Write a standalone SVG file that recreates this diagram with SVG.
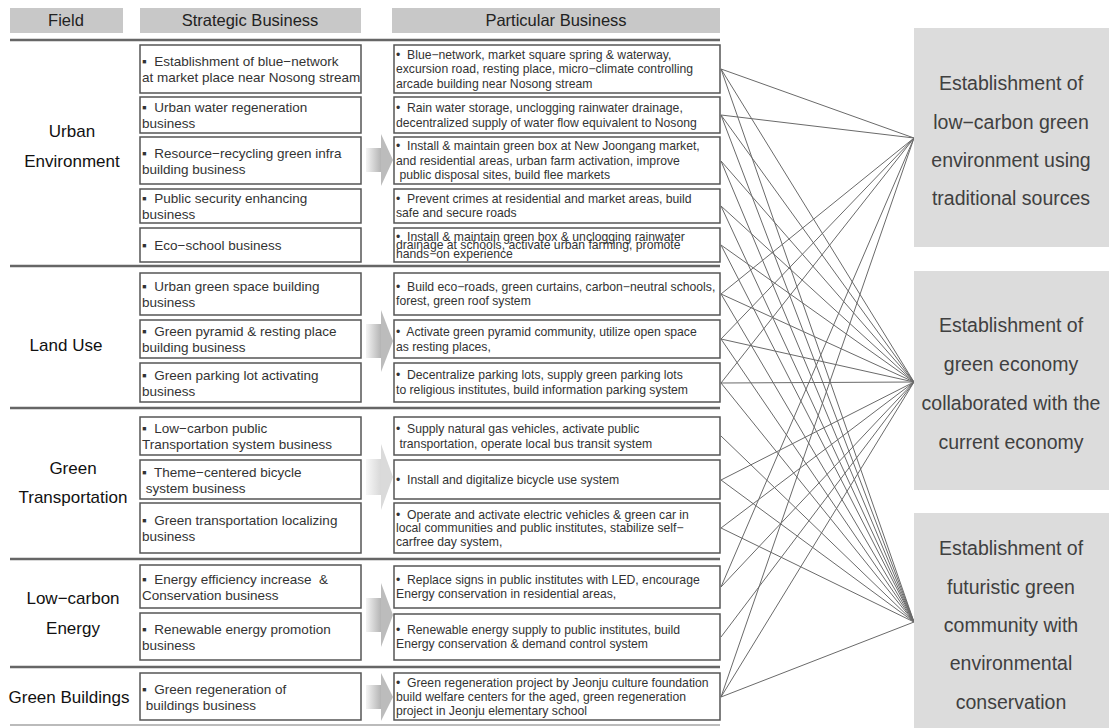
<svg xmlns="http://www.w3.org/2000/svg" width="1109" height="728" viewBox="0 0 1109 728">
<defs>
<linearGradient id="bodyG" x1="0" x2="1" y1="0" y2="0"><stop offset="0" stop-color="#f4f4f4"/><stop offset="1" stop-color="#b4b4b4"/></linearGradient>
<linearGradient id="bodyL" x1="0" x2="1" y1="0" y2="0"><stop offset="0" stop-color="#f8f8f8"/><stop offset="1" stop-color="#d8d8d8"/></linearGradient>
</defs>
<style>
.hdr{fill:#c8c8c8}
.ht{font-family:"Liberation Sans",Arial,sans-serif;font-size:16.5px;fill:#222;text-anchor:middle}
.fld{font-family:"Liberation Sans",Arial,sans-serif;font-size:17px;fill:#111;text-anchor:middle}
.box{fill:#fff;stroke:#555;stroke-width:1.5}
.st{font-family:"Liberation Sans",Arial,sans-serif;font-size:13.5px;fill:#333}
.pt{font-family:"Liberation Sans",Arial,sans-serif;font-size:12.2px;fill:#333}
.sep{stroke:#666;stroke-width:2.5}
.goal{fill:#dcdcdc}
.gt{font-family:"Liberation Sans",Arial,sans-serif;font-size:19.5px;fill:#404040;text-anchor:middle}
.cn line{stroke:#6a6a6a;stroke-width:1}
.head{fill:#bcbcbc}
.headL{fill:#dadada}
</style>
<rect width="1109" height="728" fill="#fff"/>
<g id="headers">
<rect class="hdr" x="10" y="8" width="113" height="25"/>
<text class="ht" x="66" y="26">Field</text>
<rect class="hdr" x="140" y="8" width="221" height="25"/>
<text class="ht" x="250" y="26">Strategic Business</text>
<rect class="hdr" x="392" y="8" width="328" height="25"/>
<text class="ht" x="556" y="26">Particular Business</text>
</g>
<g id="separators">
<line class="sep" x1="10" y1="40" x2="720" y2="40"/>
<line class="sep" x1="10" y1="266" x2="720" y2="266"/>
<line class="sep" x1="10" y1="408" x2="720" y2="408"/>
<line class="sep" x1="10" y1="559" x2="720" y2="559"/>
<line class="sep" x1="10" y1="667" x2="720" y2="667"/>
<line x1="10" y1="725" x2="720" y2="725" stroke="#bbb" stroke-width="2"/>
</g>
<g id="fields">
<text class="fld" x="72" y="137">Urban</text>
<text class="fld" x="72" y="167">Environment</text>
<text class="fld" x="66" y="351">Land Use</text>
<text class="fld" x="73" y="474">Green</text>
<text class="fld" x="73" y="503">Transportation</text>
<text class="fld" x="73" y="604">Low−carbon</text>
<text class="fld" x="73" y="634">Energy</text>
<text class="fld" x="69" y="703">Green Buildings</text>
</g>
<g id="strategic">
<g id="s-u1"><rect class="box" x="140" y="45" width="221" height="48"/><text class="st" x="142" y="66">▪&#160; Establishment of blue−network</text><text class="st" x="142" y="82">at market place near Nosong stream</text></g>
<g id="s-u2"><rect class="box" x="140" y="97" width="221" height="36"/><text class="st" x="142" y="112">▪&#160; Urban water regeneration</text><text class="st" x="142" y="128">business</text></g>
<g id="s-u3"><rect class="box" x="140" y="137" width="221" height="47"/><text class="st" x="142" y="157.5">▪&#160; Resource−recycling green infra</text><text class="st" x="142" y="173.5">building business</text></g>
<g id="s-u4"><rect class="box" x="140" y="189" width="221" height="34"/><text class="st" x="142" y="203">▪&#160; Public security enhancing</text><text class="st" x="142" y="219">business</text></g>
<g id="s-u5"><rect class="box" x="140" y="228" width="221" height="34"/><text class="st" x="142" y="250">▪&#160; Eco−school business</text></g>
<g id="s-l1"><rect class="box" x="140" y="273" width="221" height="42"/><text class="st" x="142" y="291">▪&#160; Urban green space building</text><text class="st" x="142" y="307">business</text></g>
<g id="s-l2"><rect class="box" x="140" y="320" width="221" height="38"/><text class="st" x="142" y="336">▪&#160; Green pyramid &amp; resting place</text><text class="st" x="142" y="352">building business</text></g>
<g id="s-l3"><rect class="box" x="140" y="363" width="221" height="39"/><text class="st" x="142" y="379.5">▪&#160; Green parking lot activating</text><text class="st" x="142" y="395.5">business</text></g>
<g id="s-t1"><rect class="box" x="140" y="417" width="221" height="38"/><text class="st" x="142" y="433">▪&#160; Low−carbon public</text><text class="st" x="142" y="449">Transportation system business</text></g>
<g id="s-t2"><rect class="box" x="140" y="460" width="221" height="39"/><text class="st" x="142" y="476.5">▪&#160; Theme−centered bicycle</text><text class="st" x="142" y="492.5">&#160;system business</text></g>
<g id="s-t3"><rect class="box" x="140" y="503" width="221" height="50"/><text class="st" x="142" y="525">▪&#160; Green transportation localizing</text><text class="st" x="142" y="541">business</text></g>
<g id="s-e1"><rect class="box" x="140" y="565" width="221" height="43"/><text class="st" x="142" y="583.5">▪&#160; Energy efficiency increase&#160; &amp;</text><text class="st" x="142" y="599.5">Conservation business</text></g>
<g id="s-e2"><rect class="box" x="140" y="613" width="221" height="47"/><text class="st" x="142" y="633.5">▪&#160; Renewable energy promotion</text><text class="st" x="142" y="649.5">business</text></g>
<g id="s-b1"><rect class="box" x="140" y="673" width="221" height="47"/><text class="st" x="142" y="693.5">▪&#160; Green regeneration of</text><text class="st" x="142" y="709.5">&#160;buildings business</text></g>
</g>
<g id="arrows">
<g id="a-u"><rect x="366" y="148" width="15" height="24" fill="url(#bodyG)"/><polygon class="head" points="381,134 393,160 381,186"/></g>
<g id="a-l"><rect x="366" y="324" width="15" height="34" fill="url(#bodyG)"/><polygon class="head" points="381,310 393,341 381,372"/></g>
<g id="a-t"><rect x="366" y="459" width="15" height="36" fill="url(#bodyL)"/><polygon class="headL" points="381,444 393,477 381,510"/></g>
<g id="a-e"><rect x="366" y="598" width="15" height="34" fill="url(#bodyG)"/><polygon class="head" points="381,583 393,615 381,647"/></g>
<g id="a-b"><rect x="366" y="685" width="15" height="24" fill="url(#bodyG)"/><polygon class="head" points="381,673 393,697 381,721"/></g>
</g>
<g id="particular">
<g id="p-u1"><rect class="box" x="394" y="45" width="326" height="48"/><text class="pt" x="396" y="58.5">•&#160; Blue−network, market square spring &amp; waterway,</text><text class="pt" x="396" y="73">excursion road, resting place, micro−climate controlling</text><text class="pt" x="396" y="87.5">arcade building near Nosong stream</text></g>
<g id="p-u2"><rect class="box" x="394" y="97" width="326" height="36"/><text class="pt" x="396" y="112">•&#160; Rain water storage, unclogging rainwater drainage,</text><text class="pt" x="396" y="126.5">decentralized supply of water flow equivalent to Nosong</text></g>
<g id="p-u3"><rect class="box" x="394" y="137" width="326" height="47"/><text class="pt" x="396" y="150">•&#160; Install &amp; maintain green box at New Joongang market,</text><text class="pt" x="396" y="164.5">and residential areas, urban farm activation, improve</text><text class="pt" x="396" y="179">&#160;public disposal sites, build flee markets</text></g>
<g id="p-u4"><rect class="box" x="394" y="189" width="326" height="34"/><text class="pt" x="396" y="203">•&#160; Prevent crimes at residential and market areas, build</text><text class="pt" x="396" y="217">safe and secure roads</text></g>
<g id="p-u5"><rect class="box" x="394" y="228" width="326" height="34"/><text class="pt" x="396" y="240.5">•&#160; Install &amp; maintain green box &amp; unclogging rainwater</text><text class="pt" x="396" y="249">drainage at schools, activate urban farming, promote</text><text class="pt" x="396" y="257.5">hands−on experience</text></g>
<g id="p-l1"><rect class="box" x="394" y="273" width="326" height="42"/><text class="pt" x="396" y="291">•&#160; Build eco−roads, green curtains, carbon−neutral schools,</text><text class="pt" x="396" y="305">forest, green roof system</text></g>
<g id="p-l2"><rect class="box" x="394" y="320" width="326" height="38"/><text class="pt" x="396" y="336">•&#160; Activate green pyramid community, utilize open space</text><text class="pt" x="396" y="350.5">as resting places,</text></g>
<g id="p-l3"><rect class="box" x="394" y="363" width="326" height="39"/><text class="pt" x="396" y="379">•&#160; Decentralize parking lots, supply green parking lots</text><text class="pt" x="396" y="393.5">to religious institutes, build information parking system</text></g>
<g id="p-t1"><rect class="box" x="394" y="417" width="326" height="38"/><text class="pt" x="396" y="433">•&#160; Supply natural gas vehicles, activate public</text><text class="pt" x="396" y="447.5">&#160;transportation, operate local bus transit system</text></g>
<g id="p-t2"><rect class="box" x="394" y="460" width="326" height="39"/><text class="pt" x="396" y="483.5">•&#160; Install and digitalize bicycle use system</text></g>
<g id="p-t3"><rect class="box" x="394" y="503" width="326" height="50"/><text class="pt" x="396" y="518.5">•&#160; Operate and activate electric vehicles &amp; green car in</text><text class="pt" x="396" y="532">local communities and public institutes, stabilize self−</text><text class="pt" x="396" y="545.5">carfree day system,</text></g>
<g id="p-e1"><rect class="box" x="394" y="566" width="326" height="42"/><text class="pt" x="396" y="583.5">•&#160; Replace signs in public institutes with LED, encourage</text><text class="pt" x="396" y="598">Energy conservation in residential areas,</text></g>
<g id="p-e2"><rect class="box" x="394" y="614" width="326" height="46"/><text class="pt" x="396" y="633.5">•&#160; Renewable energy supply to public institutes, build</text><text class="pt" x="396" y="648">Energy conservation &amp; demand control system</text></g>
<g id="p-b1"><rect class="box" x="394" y="673" width="326" height="47"/><text class="pt" x="396" y="686.5">•&#160; Green regeneration project by Jeonju culture foundation</text><text class="pt" x="396" y="700.5">build welfare centers for the aged, green regeneration</text><text class="pt" x="396" y="714.5">project in Jeonju elementary school</text></g>
</g>
<g id="connectors" class="cn">
<line x1="721" y1="69" x2="914" y2="138"/><line x1="721" y1="69" x2="914" y2="382"/><line x1="721" y1="69" x2="914" y2="622"/>
<line x1="721" y1="115" x2="914" y2="138"/><line x1="721" y1="115" x2="914" y2="382"/><line x1="721" y1="115" x2="914" y2="622"/>
<line x1="721" y1="161" x2="914" y2="382"/><line x1="721" y1="161" x2="914" y2="622"/>
<line x1="721" y1="206" x2="914" y2="382"/><line x1="721" y1="206" x2="914" y2="622"/>
<line x1="721" y1="245" x2="914" y2="382"/><line x1="721" y1="245" x2="914" y2="622"/>
<line x1="721" y1="294" x2="914" y2="138"/><line x1="721" y1="294" x2="914" y2="382"/><line x1="721" y1="294" x2="914" y2="622"/>
<line x1="721" y1="339" x2="914" y2="138"/><line x1="721" y1="339" x2="914" y2="382"/><line x1="721" y1="339" x2="914" y2="622"/>
<line x1="721" y1="383" x2="914" y2="138"/><line x1="721" y1="383" x2="914" y2="382"/><line x1="721" y1="383" x2="914" y2="622"/>
<line x1="721" y1="436" x2="914" y2="622"/>
<line x1="721" y1="480" x2="914" y2="382"/><line x1="721" y1="480" x2="914" y2="622"/>
<line x1="721" y1="528" x2="914" y2="382"/><line x1="721" y1="528" x2="914" y2="622"/>
<line x1="721" y1="587" x2="914" y2="138"/><line x1="721" y1="587" x2="914" y2="382"/>
<line x1="721" y1="637" x2="914" y2="382"/>
<line x1="721" y1="697" x2="914" y2="138"/><line x1="721" y1="697" x2="914" y2="382"/><line x1="721" y1="697" x2="914" y2="622"/>
</g>
<g id="goals">
<g id="g1"><rect class="goal" x="914" y="28" width="195" height="219"/><text class="gt" x="1011" y="90">Establishment of</text><text class="gt" x="1011" y="129">low−carbon green</text><text class="gt" x="1011" y="167">environment using</text><text class="gt" x="1011" y="205">traditional sources</text></g>
<g id="g2"><rect class="goal" x="914" y="271" width="195" height="219"/><text class="gt" x="1011" y="332">Establishment of</text><text class="gt" x="1011" y="371">green economy</text><text class="gt" x="1011" y="410">collaborated with the</text><text class="gt" x="1011" y="449">current economy</text></g>
<g id="g3"><rect class="goal" x="914" y="513" width="195" height="215"/><text class="gt" x="1011" y="555">Establishment of</text><text class="gt" x="1011" y="594">futuristic green</text><text class="gt" x="1011" y="632">community with</text><text class="gt" x="1011" y="670">environmental</text><text class="gt" x="1011" y="709">conservation</text></g>
</g>
</svg>
